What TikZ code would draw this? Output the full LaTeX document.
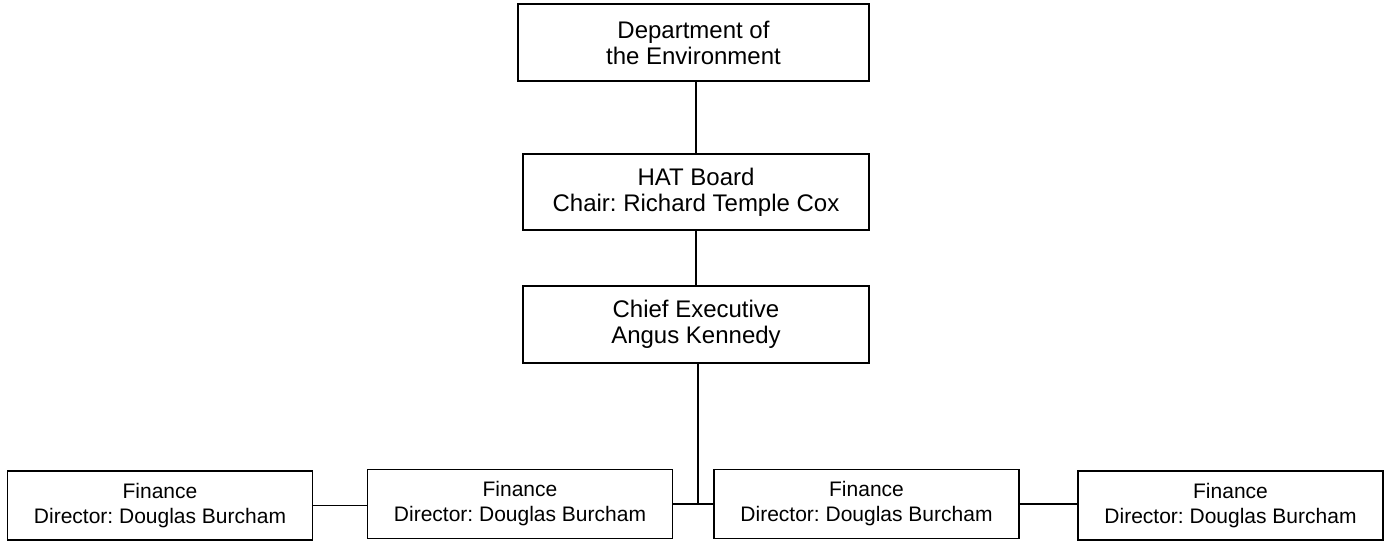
\documentclass[tikz,border=0pt]{standalone}
\usepackage{fontspec}
\setmainfont{Liberation Sans}
\usetikzlibrary{positioning}
\frenchspacing

\tikzset{
  topbox/.style={draw, line width=1.5pt, align=center, inner sep=0pt,
    font=\fontsize{24}{26}\selectfont},
  finbox/.style={draw, line width=1.5pt, align=center, inner sep=0pt,
    minimum width=305pt, minimum height=69pt,
    font=\fontsize{21}{25}\selectfont},
  link/.style={line width=1.5pt}
}

\begin{document}
\begin{tikzpicture}[x=1pt, y=-1pt]
    \useasboundingbox (0, 0) rectangle (1391, 542);

    \node [topbox, minimum width=351pt, minimum height=77pt] (dept) at (693.5, 42.5)
      {Department of\\the Environment};
    \node [topbox, minimum width=346pt, minimum height=76pt] (hat) at (696, 192)
      {HAT Board\\Chair: Richard Temple Cox};
    \node [topbox, minimum width=346pt, minimum height=77pt] (chief) at (696, 324.5)
      {Chief Executive\\Angus Kennedy};

    \node [finbox] (fin1) at (160, 505.5) {Finance\\Director: Douglas Burcham};
    \node [finbox] (fin2) at (520, 504) {Finance\\Director: Douglas Burcham};
    \node [finbox] (fin3) at (866.5, 504) {Finance\\Director: Douglas Burcham};
    \node [finbox] (fin4) at (1230.5, 505.5) {Finance\\Director: Douglas Burcham};

    \coordinate (jn) at (698, 505);

    \draw [link] (hat.north) -- (hat.north |- dept.south);
    \draw [link] (chief.north) -- (chief.north |- hat.south);
    \draw [link] (jn |- chief.south) -- (jn);
    \draw [link] (fin1.east) -- (fin1.east -| fin2.west);
    \draw [link] (fin2.east) -- (fin2.east -| fin3.west);
    \draw [link] (fin3.east) -- (fin3.east -| fin4.west);
  \end{tikzpicture}
\end{document}
